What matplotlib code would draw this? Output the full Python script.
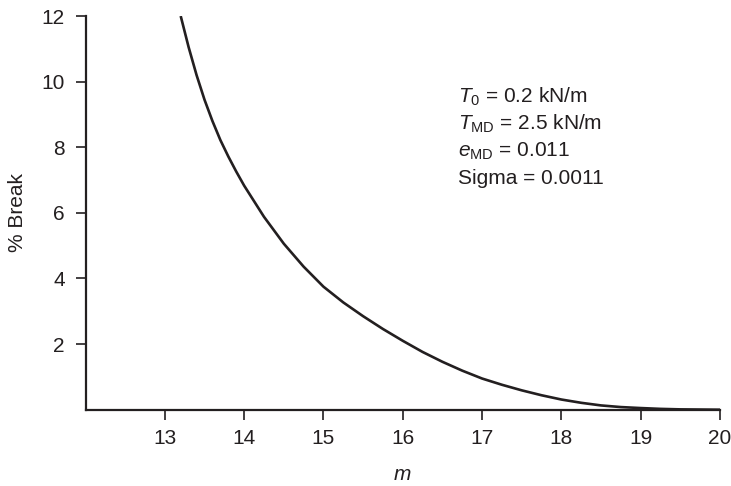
import numpy as np
import matplotlib
matplotlib.use("Agg")
import matplotlib.pyplot as plt

# values
m_vals = [13.2, 13.3, 13.4, 13.5, 13.6, 13.7, 13.8, 13.9, 14.0, 14.25, 14.5,
          14.75, 15.0, 15.25, 15.5, 15.75, 16.0, 16.25, 16.5, 16.75, 17.0,
          17.25, 17.5, 17.75, 18.0, 18.25, 18.5, 18.75, 19.0, 19.25, 19.5, 20.0]
break_pct = [12.0, 11.05, 10.2, 9.45, 8.8, 8.22, 7.72, 7.26, 6.83, 5.88, 5.06,
             4.36, 3.75, 3.27, 2.85, 2.46, 2.10, 1.76, 1.46, 1.19, 0.95,
             0.76, 0.59, 0.44, 0.31, 0.21, 0.13, 0.08, 0.05, 0.025, 0.01, 0.0]

x_ticks = [13, 14, 15, 16, 17, 18, 19, 20]
y_ticks = [2, 4, 6, 8, 10, 12]

params = [r"$T_0$ = 0.2 kN/m",
          r"$T_{\mathrm{MD}}$ = 2.5 kN/m",
          r"$e_{\mathrm{MD}}$ = 0.011",
          "Sigma = 0.0011"]

plt.rcParams['font.family'] = ['Liberation Sans', 'DejaVu Sans']
plt.rcParams['mathtext.fontset'] = 'custom'
plt.rcParams['mathtext.rm'] = 'Liberation Sans'
plt.rcParams['mathtext.it'] = 'Liberation Sans:italic'

ink = '#231f20'
fs = 15

fig = plt.figure(figsize=(7.31, 4.86), dpi=100)
ax = fig.add_axes([0.117, 0.157, 0.868, 0.810])

ax.plot(m_vals, break_pct, color=ink, lw=1.9, solid_capstyle='butt')

ax.set_xlim(12, 20)
ax.set_ylim(0, 12)
ax.set_xticks(x_ticks)
ax.set_yticks(y_ticks)

for side in ['top', 'right']:
    ax.spines[side].set_visible(False)
for side in ['left', 'bottom']:
    ax.spines[side].set_linewidth(1.6)
    ax.spines[side].set_color(ink)

ax.tick_params(axis='both', direction='out', length=7, width=1.2,
               colors=ink, labelsize=fs)
ax.tick_params(axis='x', pad=7)
ax.tick_params(axis='y', pad=8)

ax.set_xlabel('m', fontsize=fs, style='italic', color=ink, labelpad=12)
ax.set_ylabel('% Break', fontsize=fs, color=ink, labelpad=10)

y0 = 0.80
for i, line in enumerate(params):
    fig.text(0.626, y0 - i * 0.0556, line, fontsize=fs, color=ink, va='center')

fig.savefig('out.png', dpi=100)
